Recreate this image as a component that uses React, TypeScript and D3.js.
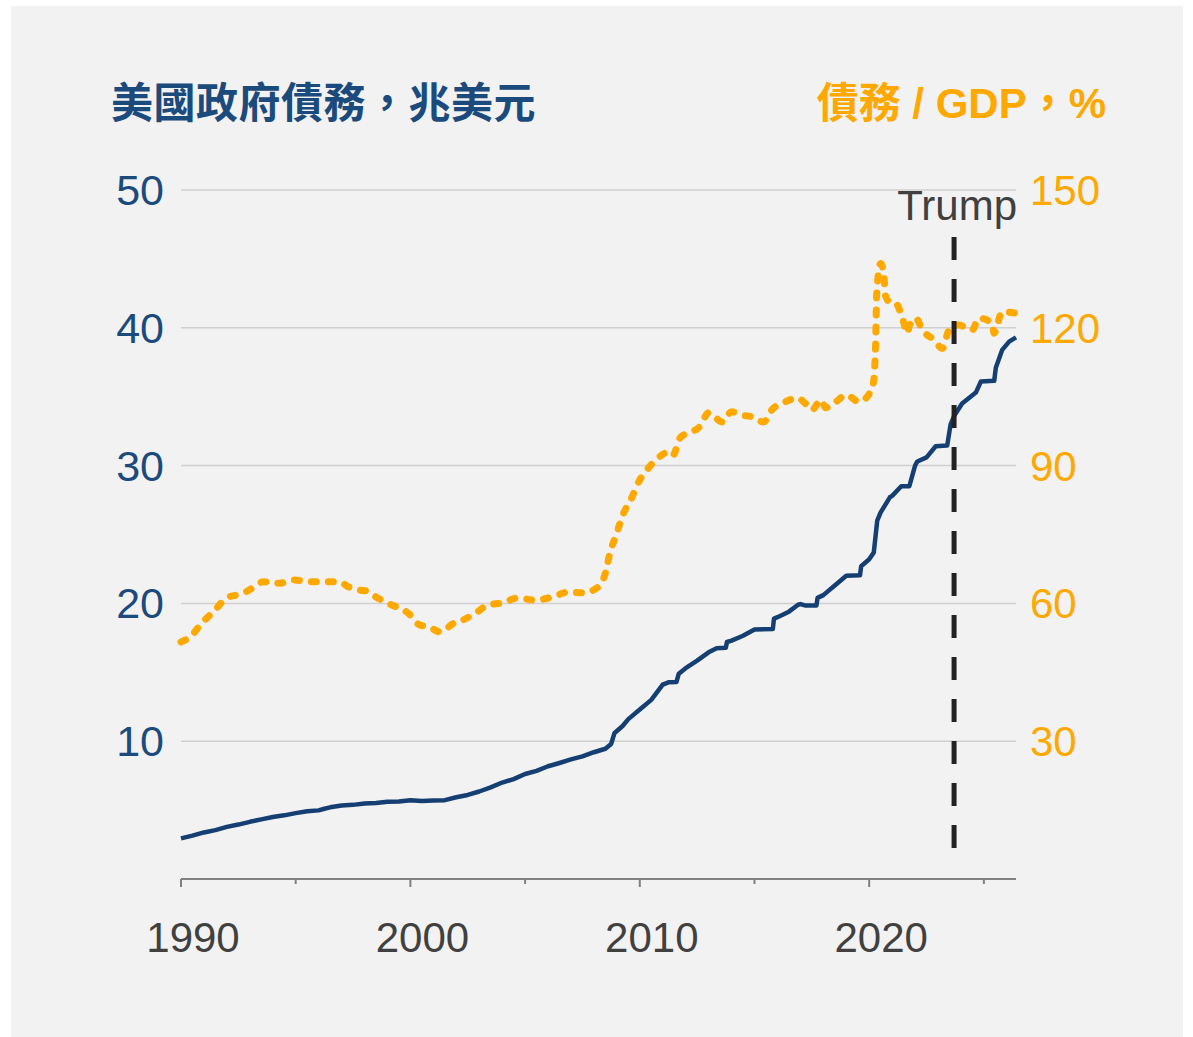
import React from 'react';
import * as d3 from 'd3';

// US government debt, trillion USD (left axis)
const debtDates = [
  1990.0, 1990.5, 1991.0, 1991.5, 1992.0, 1992.5, 1993.0, 1993.5, 1994.0, 1994.5,
  1995.0, 1995.5, 1996.0, 1996.25, 1996.5, 1997.0, 1997.5, 1998.0, 1998.5, 1999.0,
  1999.5, 2000.0, 2000.5, 2001.0, 2001.5, 2002.0, 2002.5, 2003.0, 2003.5, 2004.0,
  2004.5, 2005.0, 2005.5, 2006.0, 2006.5, 2007.0, 2007.5, 2008.0, 2008.5, 2008.75,
  2008.9, 2009.25, 2009.5, 2010.0, 2010.5, 2011.0, 2011.25, 2011.6, 2011.7, 2012.0,
  2012.5, 2013.0, 2013.35, 2013.75, 2013.8, 2014.0, 2014.5, 2015.0, 2015.8, 2015.85,
  2016.0, 2016.5, 2016.9, 2017.0, 2017.2, 2017.7, 2017.75, 2018.0, 2018.5, 2019.0,
  2019.6, 2019.65, 2020.0, 2020.2, 2020.35, 2020.5, 2020.9, 2021.0, 2021.4, 2021.75,
  2022.0, 2022.1, 2022.5, 2022.9, 2023.4, 2023.55, 2023.7, 2024.05, 2024.65, 2024.87,
  2025.45, 2025.52, 2025.8, 2026.1, 2026.4,
];
const debtValues = [
  2.95, 3.15, 3.38, 3.55, 3.78, 3.95, 4.15, 4.33, 4.5, 4.62,
  4.78, 4.92, 4.98, 5.1, 5.2, 5.33, 5.38, 5.48, 5.52, 5.6,
  5.62, 5.72, 5.66, 5.7, 5.72, 5.93, 6.1, 6.35, 6.65, 7.0,
  7.25, 7.62, 7.85, 8.18, 8.42, 8.68, 8.9, 9.2, 9.45, 9.8,
  10.6, 11.1, 11.6, 12.3, 13.0, 14.1, 14.27, 14.3, 14.9, 15.3,
  15.85, 16.45, 16.75, 16.78, 17.2, 17.3, 17.65, 18.1, 18.15, 18.9,
  19.0, 19.4, 19.9, 19.95, 19.85, 19.85, 20.4, 20.6, 21.3, 22.0,
  22.05, 22.7, 23.2, 23.7, 26.0, 26.6, 27.7, 27.8, 28.5, 28.5,
  30.0, 30.3, 30.6, 31.4, 31.45, 33.0, 33.6, 34.5, 35.3, 36.1,
  36.15, 37.1, 38.4, 39.0, 39.3,
];

// Debt / GDP, % (right axis)
const ratioDates = [
  1990.0, 1990.4, 1990.9, 1991.4, 1992.0, 1992.4, 1992.9, 1993.6, 1994.3, 1994.9,
  1995.6, 1996.3, 1996.9, 1997.3, 1997.8, 1998.1, 1998.5, 1998.9, 1999.4, 1999.9,
  2000.4, 2000.8, 2001.3, 2001.9, 2002.3, 2002.9, 2003.4, 2004.0, 2004.7, 2005.4,
  2006.2, 2006.9, 2007.5, 2008.2, 2008.5, 2008.7, 2009.0, 2009.15, 2009.3, 2009.6,
  2010.0, 2010.3, 2010.8, 2011.3, 2011.45, 2011.75, 2012.1, 2012.6, 2013.0, 2013.6,
  2014.0, 2014.45, 2014.9, 2015.4, 2015.75, 2016.35, 2016.9, 2017.2, 2017.5, 2017.9,
  2018.1, 2018.55, 2019.0, 2019.56, 2020.1, 2020.2, 2020.28, 2020.33, 2020.5, 2020.63,
  2020.72, 2020.94, 2021.16, 2021.45, 2021.67, 2021.74, 2022.03, 2022.32, 2022.82, 2023.19,
  2023.48, 2023.91, 2024.49, 2024.78, 2025.36, 2025.44, 2025.8, 2026.38,
];
const ratioValues = [
  51.6, 52.7, 55.7, 58.1, 61.2, 61.8, 62.7, 64.7, 64.4, 65.1,
  64.7, 64.7, 64.7, 63.6, 62.9, 62.7, 61.4, 60.3, 59.2, 57.9,
  55.3, 54.9, 53.8, 55.7, 56.4, 58.1, 59.7, 60.1, 61.2, 60.7,
  61.4, 62.5, 62.3, 63.6, 66.6, 71.0, 75.3, 77.7, 79.7, 82.5,
  86.9, 89.0, 91.7, 93.0, 92.3, 96.0, 97.1, 98.4, 101.5, 99.5,
  101.7, 101.0, 100.6, 99.5, 102.1, 103.9, 104.7, 103.6, 102.1, 104.3,
  102.6, 103.9, 105.4, 103.9, 106.5, 108.6, 116.7, 127.6, 134.0, 131.9,
  126.8, 125.4, 125.3, 122.1, 118.8, 120.3, 122.1, 119.5, 117.4, 115.5,
  119.5, 120.6, 119.5, 122.1, 121.0, 118.8, 123.5, 123.2,
];

const leftTicks = [10, 20, 30, 40, 50];
const rightTicks = [30, 60, 90, 120, 150];
const yearTicks = [1990, 2000, 2010, 2020];
const minorYearTicks = [1995, 2005, 2015, 2025];
const trumpDate = 2023.7;

const NAVY_TEXT = '#1b4a7d';
const NAVY_LINE = '#153f72';
const ORANGE = '#ffa800';
const GREY_TEXT = '#404040';
const LATIN = "'Liberation Sans', Arial, sans-serif";
const TITLE_FONT = "'Liberation Sans', 'Noto Sans CJK TC', sans-serif";

export default function App() {
  const W = 1193;
  const H = 1037;
  const x = d3.scaleLinear().domain([1990, 2026.4]).range([181, 1016]);
  const yL = d3.scaleLinear().domain([0, 50]).range([879, 190]);
  const yR = d3.scaleLinear().domain([0, 150]).range([879, 190]);

  const debtLine = d3
    .line<number>()
    .x((_, i) => x(debtDates[i]))
    .y((d) => yL(d))
    .curve(d3.curveLinear)(debtValues) as string;

  const ratioLine = d3
    .line<number>()
    .x((_, i) => x(ratioDates[i]))
    .y((d) => yR(d))
    .curve(d3.curveMonotoneX)(ratioValues) as string;

  const [x0, x1] = x.range();

  return (
    <svg
      width={W}
      height={H}
      style={{ position: 'absolute', left: 0, top: 0, background: '#ffffff' }}
    >
      <rect x={11} y={6} width={1172} height={H - 6} fill="#f2f2f2" />

      {/* titles */}
      <text
        x={111}
        y={118}
        fontFamily={TITLE_FONT}
        fontWeight={700}
        fontSize={42}
        letterSpacing={0.5}
        fill={NAVY_TEXT}
      >
        美國政府債務，兆美元
      </text>
      <text
        x={1106}
        y={118}
        textAnchor="end"
        fontFamily={TITLE_FONT}
        fontWeight={700}
        fontSize={42}
        fill={ORANGE}
      >
        債務 / GDP，%
      </text>

      {/* gridlines */}
      {leftTicks.map((t) => (
        <line key={'g' + t} x1={x0} x2={x1} y1={yL(t)} y2={yL(t)} stroke="#d0d0d0" strokeWidth={1.5} />
      ))}

      {/* left axis labels */}
      {leftTicks.map((t) => (
        <text
          key={'l' + t}
          x={164}
          y={yL(t) + 15}
          textAnchor="end"
          fontFamily={LATIN}
          fontSize={43}
          fill={NAVY_TEXT}
        >
          {t}
        </text>
      ))}

      {/* right axis labels */}
      {rightTicks.map((t) => (
        <text key={'r' + t} x={1030} y={yR(t) + 15} fontFamily={LATIN} fontSize={42} fill={ORANGE}>
          {t}
        </text>
      ))}

      {/* x axis */}
      <line x1={x0} x2={x1} y1={879} y2={879} stroke="#808080" strokeWidth={2} />
      {yearTicks.map((t) => (
        <line key={'t' + t} x1={x(t)} x2={x(t)} y1={879} y2={887} stroke="#808080" strokeWidth={2} />
      ))}
      {minorYearTicks.map((t) => (
        <line key={'m' + t} x1={x(t)} x2={x(t)} y1={879} y2={884} stroke="#808080" strokeWidth={2} />
      ))}
      {yearTicks.map((t) => (
        <text
          key={'x' + t}
          x={x(t) + 12}
          y={952}
          textAnchor="middle"
          fontFamily={LATIN}
          fontSize={42}
          fill={GREY_TEXT}
        >
          {t}
        </text>
      ))}

      {/* series */}
      <path
        d={ratioLine}
        fill="none"
        stroke={ORANGE}
        strokeWidth={7}
        strokeDasharray="5 12"
        strokeLinecap="round"
        strokeLinejoin="round"
      />
      <path d={debtLine} fill="none" stroke={NAVY_LINE} strokeWidth={4.5} strokeLinejoin="round" />

      {/* Trump marker */}
      <line
        x1={x(trumpDate)}
        x2={x(trumpDate)}
        y1={237}
        y2={851}
        stroke="#222222"
        strokeWidth={5}
        strokeDasharray="23 19"
      />
      <text x={1017} y={220} textAnchor="end" fontFamily={LATIN} fontSize={42} fill={GREY_TEXT}>
        Trump
      </text>
    </svg>
  );
}
